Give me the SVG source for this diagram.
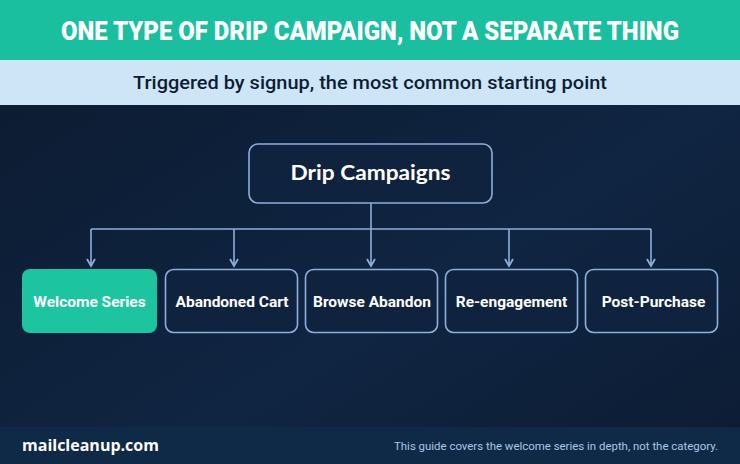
<svg xmlns="http://www.w3.org/2000/svg" width="740" height="464" viewBox="0 0 740 464">
<defs>
<linearGradient id="bg" x1="0" y1="0" x2="1" y2="1">
<stop offset="0" stop-color="#0b1a2f"/>
<stop offset="0.6" stop-color="#102542"/>
<stop offset="1" stop-color="#0c1c33"/>
</linearGradient>
<marker id="arr" viewBox="0 0 10 10" refX="8" refY="5" markerWidth="10" markerHeight="10" markerUnits="userSpaceOnUse" orient="auto">
<path d="M1,1 L8,5 L1,9" fill="none" stroke="#8eaedc" stroke-width="1.8"/>
</marker>
</defs>
<style>
.node{fill:#10233e;stroke:#8eaedc;stroke-width:1.6}
.lbl{font-family:Roboto,"Liberation Sans",sans-serif;font-weight:700;font-size:15.5px;fill:#ffffff;text-anchor:middle}
.conn{fill:none;stroke:#8eaedc;stroke-width:1.6}
</style>
<rect width="740" height="464" fill="url(#bg)"/>
<rect x="0" y="0" width="740" height="60" fill="#19bf9f"/>
<rect x="0" y="60" width="740" height="45" fill="#cde5f7"/>
<text x="370" y="40" text-anchor="middle" font-family="Roboto,'Liberation Sans',sans-serif" font-weight="900" font-size="26" fill="#ffffff" textLength="618" lengthAdjust="spacingAndGlyphs">ONE TYPE OF DRIP CAMPAIGN, NOT A SEPARATE THING</text>
<text x="370" y="89" text-anchor="middle" font-family="Roboto,'Liberation Sans',sans-serif" font-weight="500" font-size="19" fill="#0e1d33" textLength="474" lengthAdjust="spacingAndGlyphs">Triggered by signup, the most common starting point</text>
<g id="connectors">
<path class="conn" d="M371,203 V229"/>
<path class="conn" d="M91,229 H651"/>
<path class="conn" d="M91,229 V266" marker-end="url(#arr)"/>
<path class="conn" d="M234,229 V266" marker-end="url(#arr)"/>
<path class="conn" d="M371,229 V266" marker-end="url(#arr)"/>
<path class="conn" d="M509,229 V266" marker-end="url(#arr)"/>
<path class="conn" d="M651,229 V266" marker-end="url(#arr)"/>
</g>
<g id="drip-campaigns">
<rect class="node" x="249" y="144" width="243" height="59" rx="9"/>
<text x="370.5" y="180" text-anchor="middle" font-family="Lato,'Liberation Sans',sans-serif" font-weight="700" font-size="21" fill="#ffffff" textLength="160" lengthAdjust="spacingAndGlyphs">Drip Campaigns</text>
</g>
<g id="welcome-series">
<rect x="22" y="269" width="135" height="64" rx="8" fill="#1dc4a0"/>
<text class="lbl" x="89.5" y="307">Welcome Series</text>
</g>
<g id="abandoned-cart">
<rect class="node" x="165.5" y="269.5" width="132" height="63" rx="8"/>
<text class="lbl" x="232" y="307">Abandoned Cart</text>
</g>
<g id="browse-abandon">
<rect class="node" x="305.5" y="269.5" width="132" height="63" rx="8"/>
<text class="lbl" x="372" y="307">Browse Abandon</text>
</g>
<g id="re-engagement">
<rect class="node" x="445.5" y="269.5" width="132" height="63" rx="8"/>
<text class="lbl" x="511.5" y="307">Re-engagement</text>
</g>
<g id="post-purchase">
<rect class="node" x="585.5" y="269.5" width="132" height="63" rx="8"/>
<text class="lbl" x="653.5" y="307">Post-Purchase</text>
</g>
<rect x="0" y="427" width="740" height="37" fill="#0f2a47"/>
<text x="22" y="451" font-family="'Open Sans','Liberation Sans',sans-serif" font-weight="700" font-size="16" fill="#ffffff">mailcleanup.com</text>
<text x="718" y="450" text-anchor="end" font-family="Roboto,'Liberation Sans',sans-serif" font-size="11.5" fill="#a9c6e8" textLength="324" lengthAdjust="spacingAndGlyphs">This guide covers the welcome series in depth, not the category.</text>
</svg>
